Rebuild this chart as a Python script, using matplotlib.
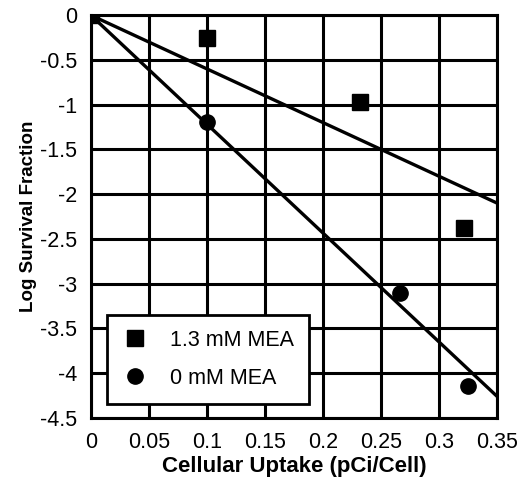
import matplotlib
matplotlib.use("Agg")
import matplotlib.pyplot as plt
import numpy as np

plt.rcParams['font.family'] = ['Liberation Sans', 'DejaVu Sans']

# measured points
mea_x = [0, 0.1, 0.232, 0.321]
mea_y = [0, -0.26, -0.97, -2.38]
ctl_x = [0, 0.1, 0.266, 0.325]
ctl_y = [0, -1.19, -3.10, -4.14]

# fitted lines through origin
fit_x = [0, 0.35]
fit_mea = [0, -2.10]
fit_ctl = [0, -4.26]

xticks = [0, 0.05, 0.1, 0.15, 0.2, 0.25, 0.3, 0.35]
xtick_labels = ['0', '0.05', '0.1', '0.15', '0.2', '0.25', '0.3', '0.35']
yticks = [0, -0.5, -1, -1.5, -2, -2.5, -3, -3.5, -4, -4.5]
ytick_labels = ['0', '-0.5', '-1', '-1.5', '-2', '-2.5', '-3', '-3.5', '-4', '-4.5']

fig = plt.figure(figsize=(5.25, 4.9), dpi=100)
ax = fig.add_axes([0.173, 0.147, 0.774, 0.822])

ax.plot(fit_x, fit_mea, color='black', lw=2.4, zorder=3)
ax.plot(fit_x, fit_ctl, color='black', lw=2.4, zorder=3)
ax.plot(mea_x, mea_y, 's', color='black', ms=12, ls='none', label='1.3 mM MEA', zorder=4)
ax.plot(ctl_x, ctl_y, 'o', color='black', ms=11, ls='none', label='0 mM MEA', zorder=4)

ax.set_xlim(0, 0.35)
ax.set_ylim(-4.5, 0)
ax.set_xticks(xticks)
ax.set_xticklabels(xtick_labels)
ax.set_yticks(yticks)
ax.set_yticklabels(ytick_labels)
ax.tick_params(length=0, labelsize=15.5)
ax.tick_params(axis='x', pad=10)
ax.tick_params(axis='y', pad=10)
ax.grid(True, color='black', lw=2.2)
for s in ax.spines.values():
    s.set_linewidth(2.2)

ax.set_xlabel('Cellular Uptake (pCi/Cell)', fontsize=16, fontweight='bold', labelpad=2)
ax.set_ylabel('Log Survival Fraction', fontsize=13.5, fontweight='bold', labelpad=2)

leg = ax.legend(loc='lower left', bbox_to_anchor=(0.04, 0.035), fontsize=15.5,
                frameon=True, fancybox=False, edgecolor='black', framealpha=1,
                borderpad=0.7, labelspacing=0.8, handletextpad=1.0, handlelength=1.2,
                borderaxespad=0)
leg.get_frame().set_linewidth(2)

fig.savefig('out.png', dpi=100)
